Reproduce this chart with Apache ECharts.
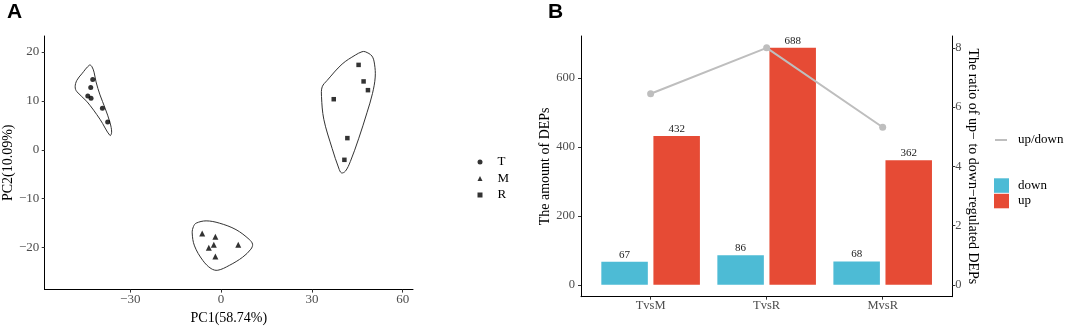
<!DOCTYPE html>
<html>
<head>
<meta charset="utf-8">
<title>PCA and DEPs</title>
<script src="https://cdn.jsdelivr.net/npm/echarts@6/dist/echarts.min.js"></script>
<style>
  html, body { margin: 0; padding: 0; background: #fff; }
  #main { width: 1065px; height: 330px; }
</style>
</head>
<body>
<div id="main"></div>
<script>
// panel A - PCA scores [PC1, PC2]
const tPoints = [[-42.38, 14.39], [-43.04, 12.74], [-44.02, 11.0], [-42.94, 10.55], [-39.19, 8.5], [-37.45, 5.71]]
const mPoints = [[-6.24, -17.11], [-1.87, -17.77], [-4.04, -20.04], [-2.4, -19.44], [-1.87, -21.83], [5.68, -19.44]]
const rPoints = [[45.43, 17.37], [47.08, 13.99], [48.52, 12.2], [37.22, 10.35], [41.72, 2.39], [40.74, -2.05]]

// hull outlines, same units as the scores
const tHull = [[-43.46, 17.33], [-42.71, 17.07], [-41.95, 15.88], [-41.29, 13.88], [-39.98, 11.22], [-38.34, 8.57],
    [-36.69, 5.58], [-36.14, 3.59], [-36.69, 2.93], [-39.98, 6.24], [-44.35, 9.9], [-47.64, 11.89],
    [-48.19, 12.89], [-47.64, 14.2], [-45.99, 15.54]]
const mHull = [[-8.21, -15.0], [-4.93, -14.54], [-0.56, -15.0], [4.93, -16.33], [9.3, -18.33], [10.41, -19.32],
    [9.86, -20.32], [7.13, -21.97], [2.73, -23.65], [-1.08, -24.64], [-3.29, -24.3], [-6.01, -22.65],
    [-8.77, -19.66], [-9.53, -16.99], [-9.1, -15.68]]
const rHull = [[47.63, 20.06], [49.84, 19.18], [50.69, 17.53], [50.92, 14.88], [50.03, 11.55], [48.19, 7.57],
    [45.43, 2.25], [42.71, -2.39], [41.06, -4.38], [39.75, -4.72], [38.86, -3.73], [36.7, 0.26],
    [33.94, 6.24], [33.18, 10.9], [33.41, 12.89], [35.05, 14.2], [39.98, 17.53], [44.35, 19.38], [46.55, 20.06]]

const pcaXTicks = [-30, 0, 30, 60]
const pcaYTicks = [-20, -10, 0, 10, 20]

// panel B - DEP counts
const comparisons = ['TvsM', 'TvsR', 'MvsR']
const downCounts = [67, 86, 68]
const upCounts = [432, 688, 362]
const upDownRatio = [6.45, 8.0, 5.32]
const countTicks = [0, 200, 400, 600]
const ratioTicks = [0, 2, 4, 6, 8]

const serif = 'Liberation Serif'
const minus = v => String(v).replace('-', '\u2212')
const hulls = [tHull, mHull, rHull]

const axisLine = { show: true, onZero: false, lineStyle: { color: '#000', width: 1 } }
const axisTick = vals => ({ show: true, customValues: vals, length: 3, lineStyle: { color: '#333' } })
const tickLabel = (vals, size, margin, fmt) => ({
    customValues: vals, color: '#4d4d4d', fontFamily: serif, fontSize: size, margin: margin, formatter: fmt
})
const nameStyle = { color: '#000', fontFamily: serif, fontSize: 14 }
const legendText = pad => ({ fontFamily: serif, fontSize: 13, color: '#000', padding: [0, 0, 0, pad] })

const chart = echarts.init(document.getElementById('main'))

chart.setOption({
    animation: false,
    backgroundColor: '#fff',
    title: [
        { text: 'A', left: 7, top: 1.5, padding: 0, textStyle: { fontFamily: 'Liberation Sans', fontWeight: 'bold', fontSize: 21, color: '#000' } },
        { text: 'B', left: 548, top: 1.5, padding: 0, textStyle: { fontFamily: 'Liberation Sans', fontWeight: 'bold', fontSize: 21, color: '#000' } }
    ],
    grid: [
        { left: 42.7, top: 36, width: 370.3, height: 260.7 },
        { left: 581, top: 36, width: 371.3, height: 260.7 }
    ],
    xAxis: [
        {
            type: 'value', gridIndex: 0, min: -58.24, max: 63.4,
            name: 'PC1(58.74%)', nameLocation: 'middle', nameGap: 18, nameTextStyle: nameStyle,
            axisLine: axisLine, axisTick: axisTick(pcaXTicks), splitLine: { show: false },
            axisLabel: tickLabel(pcaXTicks, 13, 3.5, minus)
        },
        {
            type: 'value', gridIndex: 1, min: 0.4, max: 3.6,
            axisLine: axisLine, axisTick: axisTick([1, 2, 3]), splitLine: { show: false },
            axisLabel: tickLabel([1, 2, 3], 12.5, 3, v => comparisons[v - 1])
        }
    ],
    yAxis: [
        {
            type: 'value', gridIndex: 0, min: -28.6, max: 23.28,
            name: 'PC2(10.09%)', nameLocation: 'middle', nameGap: 27, nameRotate: 90, nameTextStyle: nameStyle,
            axisLine: axisLine, axisTick: axisTick(pcaYTicks), splitLine: { show: false },
            axisLabel: tickLabel(pcaYTicks, 13, 5.5, minus)
        },
        {
            type: 'value', gridIndex: 1, min: -34.4, max: 722.4,
            name: 'The amount of DEPs', nameLocation: 'middle', nameGap: 28, nameRotate: 90, nameTextStyle: nameStyle,
            axisLine: axisLine, axisTick: axisTick(countTicks), splitLine: { show: false },
            axisLabel: tickLabel(countTicks, 12.5, 6, null)
        },
        {
            type: 'value', gridIndex: 1, position: 'right', min: -0.4, max: 8.4,
            name: 'The ratio of up\u2212 to down\u2212regulated DEPs', nameLocation: 'middle', nameGap: 12.4, nameRotate: -90,
            nameTextStyle: nameStyle,
            axisLine: axisLine, axisTick: axisTick(ratioTicks), splitLine: { show: false },
            axisLabel: tickLabel(ratioTicks, 12.5, 3, null)
        }
    ],
    legend: [
        {
            data: ['T', 'M', 'R'], orient: 'vertical', left: 477.5, top: 155.5, padding: 0,
            itemWidth: 5, itemHeight: 5, itemGap: 3.5, selectedMode: false,
            textStyle: legendText(10)
        },
        {
            data: [{ name: 'up/down', icon: 'rect', itemStyle: { color: '#bebebe' } }], left: 995, top: 133.5, padding: 0,
            itemWidth: 12, itemHeight: 2, selectedMode: false,
            textStyle: legendText(6)
        },
        {
            data: [{ name: 'down', icon: 'rect' }, { name: 'up', icon: 'rect' }], orient: 'vertical', left: 994, top: 178.3, padding: 0,
            itemWidth: 15, itemHeight: 14.5, itemGap: 1, selectedMode: false,
            textStyle: legendText(4)
        }
    ],
    series: [
        {
            // hull outlines round each group
            type: 'custom', xAxisIndex: 0, yAxisIndex: 0, silent: true, z: 1,
            data: hulls.map((h, i) => [i, 0]),
            renderItem: (params, api) => ({
                type: 'polygon',
                shape: { points: hulls[params.dataIndex].map(p => api.coord(p)), smooth: 0.35 },
                style: { fill: 'none', stroke: '#333', lineWidth: 1 }
            })
        },
        { name: 'T', type: 'scatter', xAxisIndex: 0, yAxisIndex: 0, symbol: 'circle', symbolSize: 5, data: tPoints, itemStyle: { color: '#000' } },
        { name: 'M', type: 'scatter', xAxisIndex: 0, yAxisIndex: 0, symbol: 'triangle', symbolSize: 6, data: mPoints, itemStyle: { color: '#000' } },
        { name: 'R', type: 'scatter', xAxisIndex: 0, yAxisIndex: 0, symbol: 'rect', symbolSize: 4.5, data: rPoints, itemStyle: { color: '#000' } },
        {
            name: 'down', type: 'bar', xAxisIndex: 1, yAxisIndex: 1, barWidth: 46.5, barGap: '12%',
            data: downCounts.map((v, i) => [i + 1, v]),
            itemStyle: { color: '#4DBBD5' },
            label: { show: true, position: 'top', distance: 1.5, formatter: p => p.value[1], fontFamily: serif, fontSize: 11, color: '#1a1a1a' }
        },
        {
            name: 'up', type: 'bar', xAxisIndex: 1, yAxisIndex: 1, barWidth: 46.5, barGap: '12%',
            data: upCounts.map((v, i) => [i + 1, v]),
            itemStyle: { color: '#E64B35' },
            label: { show: true, position: 'top', distance: 1.5, formatter: p => p.value[1], fontFamily: serif, fontSize: 11, color: '#1a1a1a' }
        },
        {
            name: 'up/down', type: 'line', xAxisIndex: 1, yAxisIndex: 2, z: 3,
            data: upDownRatio.map((v, i) => [i + 1, v]),
            symbol: 'circle', symbolSize: 7,
            lineStyle: { color: '#bebebe', width: 2 },
            itemStyle: { color: '#bebebe' }
        }
    ]
})
</script>
</body>
</html>
